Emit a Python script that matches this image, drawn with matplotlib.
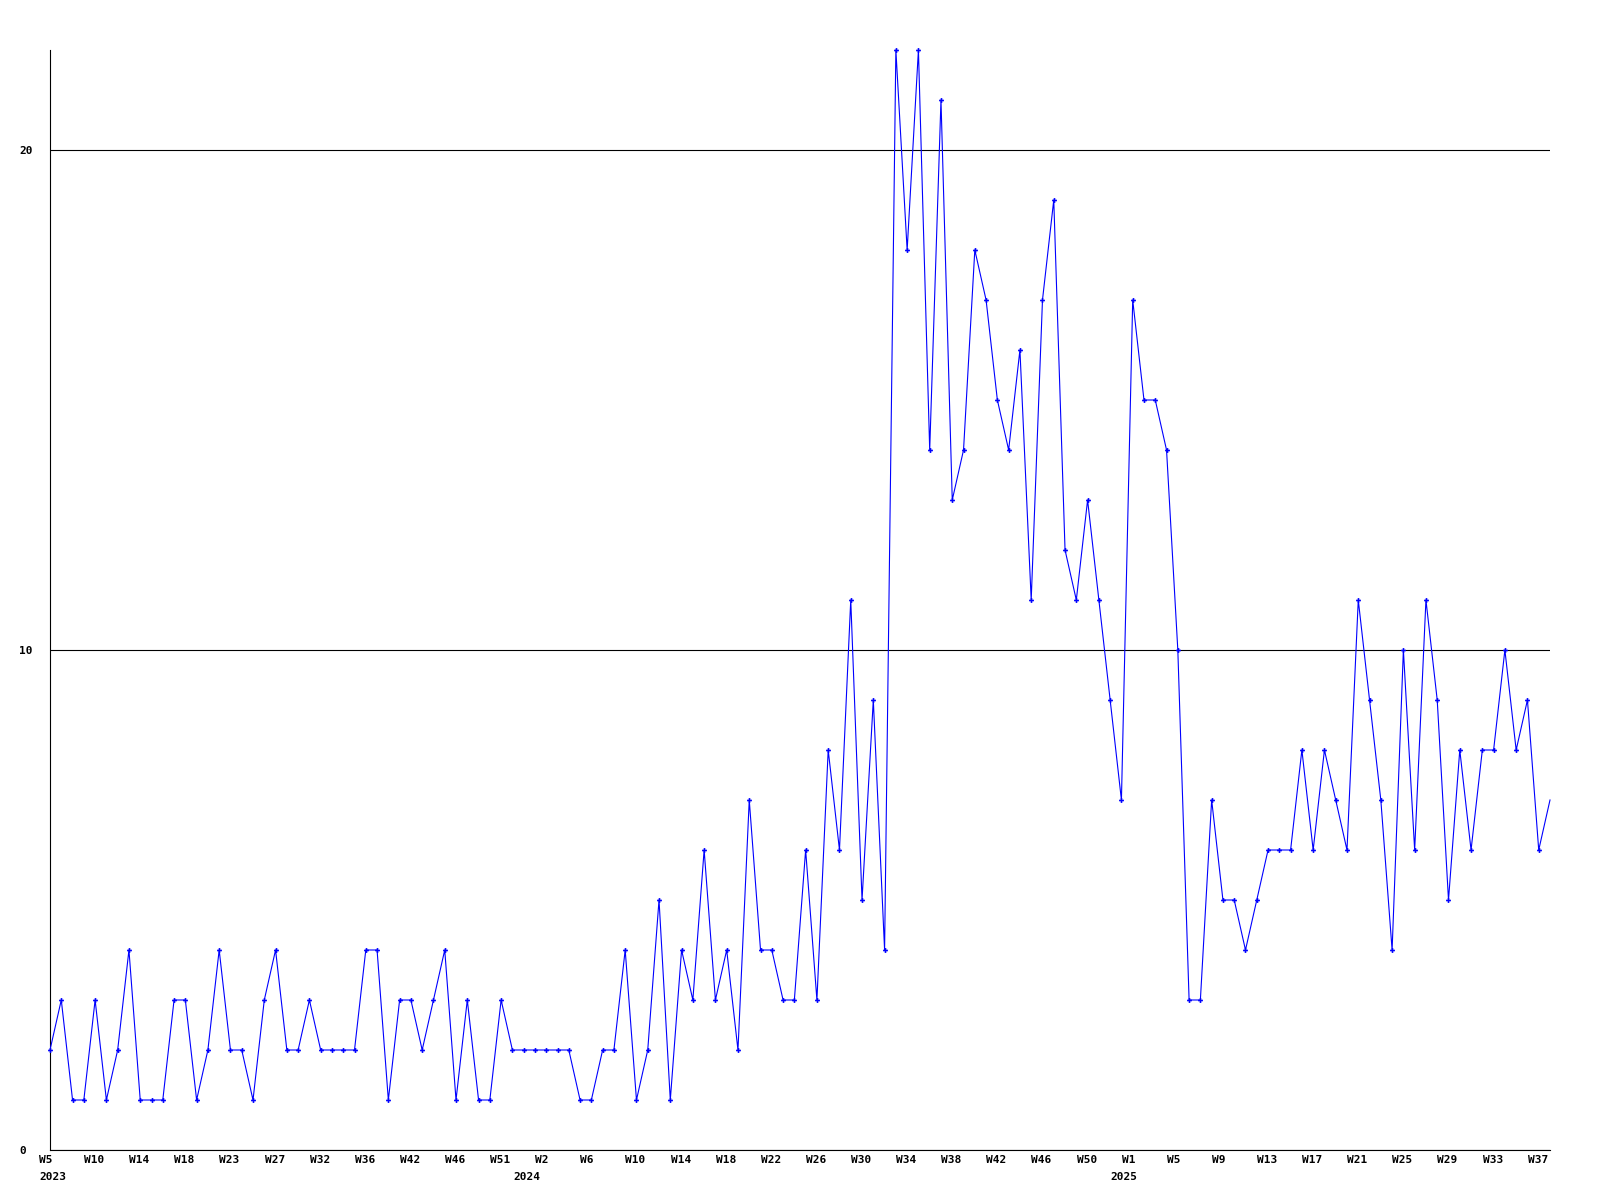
import numpy as np
import matplotlib.pyplot as plt
from matplotlib.transforms import ScaledTranslation

# 每周数值，从 2023 W5 开始，共 134 个点
values = [
    2, 3, 1, 1, 3, 1, 2, 4, 1, 1,
    1, 3, 3, 1, 2, 4, 2, 2, 1, 3,
    4, 2, 2, 3, 2, 2, 2, 2, 4, 4,
    1, 3, 3, 2, 3, 4, 1, 3, 1, 1,
    3, 2, 2, 2, 2, 2, 2, 1,
    1, 2, 2, 4, 1, 2, 5, 1, 4, 3,
    6, 3, 4, 2, 7, 4, 4, 3, 3, 6,
    3, 8, 6, 11, 5, 9, 4,
    22, 18, 22, 14, 21, 13, 14, 18, 17, 15,
    14, 16, 11, 17, 19, 12, 11, 13, 11, 9,
    7, 17, 15, 15, 14, 10,
    3, 3, 7, 5, 5, 4, 5, 6, 6, 6,
    8, 6, 8, 7, 6, 11, 9, 7, 4, 10,
    6, 11, 9, 5, 8, 6, 8, 8, 10, 8,
    9, 6, 7,
]

# x 轴标签（每 4 个点一个）
week_labels = ['W5', 'W10', 'W14', 'W18', 'W23', 'W27', 'W32', 'W36', 'W42', 'W46', 'W51',
               'W2', 'W6', 'W10', 'W14', 'W18', 'W22', 'W26', 'W30', 'W34', 'W38', 'W42',
               'W46', 'W50',
               'W1', 'W5', 'W9', 'W13', 'W17', 'W21', 'W25', 'W29', 'W33', 'W37']
year_labels = ['2023', '2024', '2025']
year_label_points = [0, 44, 96]   # 年份标签所在的点序号
y_ticks = [0, 10, 20]

FONT = dict(family='DejaVu Sans Mono', weight='bold', size=8)

fig = plt.figure(figsize=(16, 12), dpi=100)
fig.patch.set_facecolor('white')
ax = fig.add_axes([50 / 1600, 50 / 1200, 1500 / 1600, 1100 / 1200])

x = np.arange(len(values))
ax.plot(x, values, color='#0000ff', lw=0.8, marker='P', ms=3.5, mew=0,
        markevery=list(range(len(values) - 1)), clip_on=False, zorder=3)

ax.set_xlim(0, len(values) - 1)
ax.set_ylim(0, 22)

# 边框与网格
for side in ['top', 'right']:
    ax.spines[side].set_visible(False)
for side in ['left', 'bottom']:
    ax.spines[side].set_color('black')
    ax.spines[side].set_linewidth(0.8)
ax.set_yticks(y_ticks)
ax.grid(axis='y', color='black', lw=0.8)
ax.set_axisbelow(True)

# 刻度标签
ax.set_xticks(x[::4], week_labels)
ax.tick_params(axis='both', length=0)
ax.tick_params(axis='x', pad=3.5)
ax.tick_params(axis='y', pad=22.3)
shift = ScaledTranslation(-11 / 100, 0, fig.dpi_scale_trans)
for lab in ax.get_xticklabels():
    lab.set_fontproperties(FONT)
    lab.set_ha('left')
    lab.set_transform(lab.get_transform() + shift)
for lab in ax.get_yticklabels():
    lab.set_fontproperties(FONT)
    lab.set_ha('left')

# 年份标签
year_dx = [-11, -33, -22]
for year, pt, dx in zip(year_labels, year_label_points, year_dx):
    tr = ax.get_xaxis_transform() + ScaledTranslation(dx / 100, -27 / 100, fig.dpi_scale_trans)
    ax.text(pt, 0, year, transform=tr, ha='left', va='center', **FONT)

fig.savefig('out.png', dpi=100)
